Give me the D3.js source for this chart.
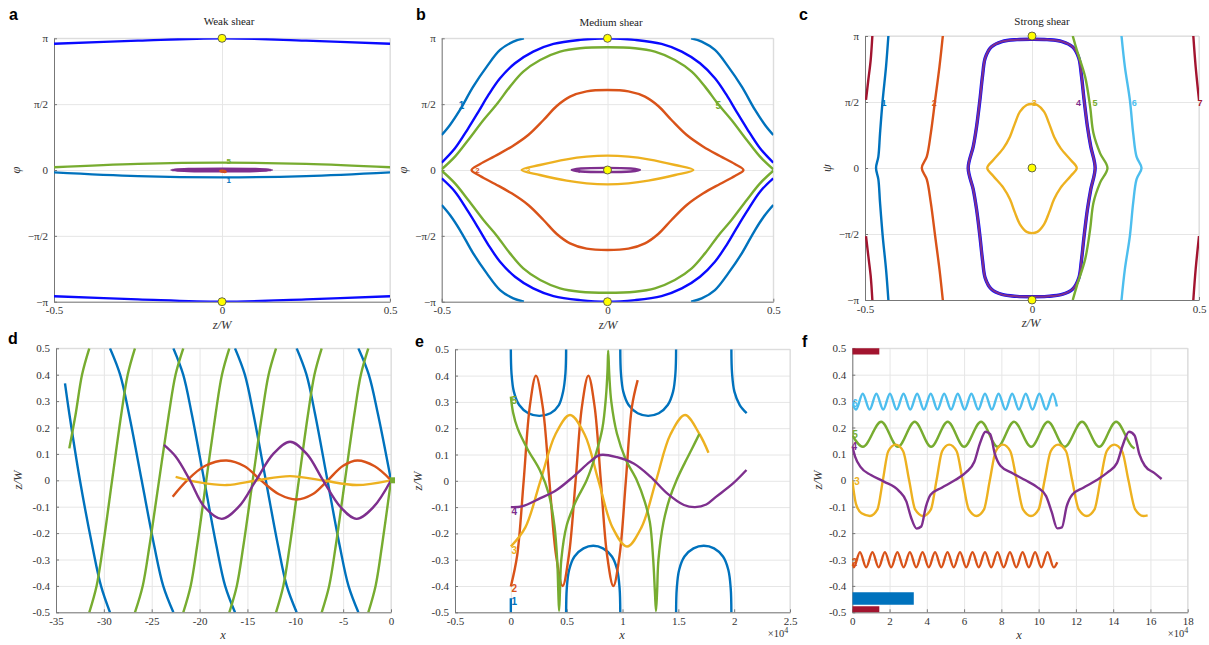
<!DOCTYPE html>
<html>
<head>
<meta charset="utf-8">
<script src="https://cdn.jsdelivr.net/npm/d3@7"></script>
<style>
  body { margin: 0; background: #fff; }
  text { font-family: "Liberation Serif", serif; }
</style>
</head>
<body>
<svg id="fig" width="1209" height="645"></svg>
<script>
const PI = Math.PI;
const col = {
  blue: "#0072BD", orange: "#D95319", yellow: "#EDB120", purple: "#7E2F8E",
  green: "#77AC30", cyan: "#4DBEEE", red: "#A2142F", sep: "#0a0aff"
};

// ---- tick values / labels ----
const phiTicks = [-PI, -PI / 2, 0, PI / 2, PI];
const phiLabels = ["\u2212\u03c0", "\u2212\u03c0/2", "0", "\u03c0/2", "\u03c0"];
const zTicks = [-0.5, 0, 0.5];
const zLabels = ["-0.5", "0", "0.5"];
const zwTicks = [-0.5, -0.4, -0.3, -0.2, -0.1, 0, 0.1, 0.2, 0.3, 0.4, 0.5];
const zwLabels = ["-0.5", "-0.4", "-0.3", "-0.2", "-0.1", "0", "0.1", "0.2", "0.3", "0.4", "0.5"];
const dTicks = [-35, -30, -25, -20, -15, -10, -5, 0];
const eTicks = [-0.5, 0, 0.5, 1, 1.5, 2, 2.5];
const fTicks = [0, 2, 4, 6, 8, 10, 12, 14, 16, 18];

// ---- panel a : weak shear ----
const aSepTop = [[-0.5,3.01],[-0.25,3.085],[0,3.142],[0.25,3.085],[0.5,3.01]];
const aSepBot = [[-0.5,-3.01],[-0.25,-3.085],[0,-3.142],[0.25,-3.085],[0.5,-3.01]];
const aGreen = [[-0.5,0.064],[-0.25,0.145],[0,0.175],[0.25,0.145],[0.5,0.064]];
const aBlue = [[-0.5,-0.056],[-0.25,-0.145],[0,-0.175],[0.25,-0.145],[0.5,-0.056]];
const aPurple = [[-0.15,0],[-0.1,0.022],[0,0.03],[0.1,0.022],[0.148,0],[0.1,-0.022],[0,-0.03],[-0.1,-0.022]];
const aOrange = [[-0.006,-0.01],[0.01,-0.02],[0.012,-0.05],[-0.004,-0.04]];

// ---- panel b : medium shear ----
const bSepTop = [[-0.5,0.175],[-0.46,0.517],[-0.42,0.994],[-0.389,1.392],[-0.359,1.79],[-0.324,2.188],[-0.279,2.546],[-0.224,2.824],[-0.163,3.007],[-0.083,3.103],[0,3.142],[0.083,3.103],[0.163,3.007],[0.224,2.824],[0.279,2.546],[0.324,2.188],[0.359,1.79],[0.389,1.392],[0.42,0.994],[0.46,0.517],[0.5,0.175]];
const bSepBot = [[-0.5,-0.2],[-0.46,-0.517],[-0.42,-0.994],[-0.389,-1.392],[-0.359,-1.79],[-0.324,-2.188],[-0.279,-2.546],[-0.224,-2.824],[-0.163,-3.007],[-0.083,-3.103],[0,-3.142],[0.083,-3.103],[0.163,-3.007],[0.224,-2.824],[0.279,-2.546],[0.324,-2.188],[0.359,-1.79],[0.389,-1.392],[0.42,-0.994],[0.46,-0.517],[0.5,-0.2]];
const bGreenTop = [[-0.5,0.016],[-0.46,0.318],[-0.42,0.716],[-0.374,1.193],[-0.334,1.567],[-0.294,1.989],[-0.254,2.347],[-0.203,2.625],[-0.143,2.824],[-0.083,2.904],[0,2.928],[0.083,2.904],[0.143,2.824],[0.203,2.625],[0.254,2.347],[0.294,1.989],[0.334,1.567],[0.374,1.193],[0.42,0.716],[0.46,0.318],[0.5,0.016]];
const bGreenBot = [[-0.5,-0.016],[-0.46,-0.318],[-0.42,-0.716],[-0.374,-1.193],[-0.334,-1.567],[-0.294,-1.989],[-0.254,-2.347],[-0.203,-2.625],[-0.143,-2.824],[-0.083,-2.904],[0,-2.928],[0.083,-2.904],[0.143,-2.824],[0.203,-2.625],[0.254,-2.347],[0.294,-1.989],[0.334,-1.567],[0.374,-1.193],[0.42,-0.716],[0.46,-0.318],[0.5,-0.016]];
const bBlueTL = [[-0.5,0.835],[-0.475,1.074],[-0.445,1.432],[-0.405,1.989],[-0.364,2.466],[-0.324,2.864],[-0.284,3.063],[-0.252,3.142]];
const bBlueTR = [[0.5,0.835],[0.475,1.074],[0.445,1.432],[0.405,1.989],[0.364,2.466],[0.324,2.864],[0.284,3.063],[0.252,3.142]];
const bBlueBL = [[-0.5,-0.835],[-0.475,-1.074],[-0.445,-1.432],[-0.405,-1.989],[-0.364,-2.466],[-0.324,-2.864],[-0.284,-3.063],[-0.252,-3.142]];
const bBlueBR = [[0.5,-0.835],[0.475,-1.074],[0.445,-1.432],[0.405,-1.989],[0.364,-2.466],[0.324,-2.864],[0.284,-3.063],[0.252,-3.142]];
const bOrange = [[-0.41,0],[-0.384,0.143],[-0.339,0.334],[-0.289,0.557],[-0.239,0.835],[-0.193,1.193],[-0.153,1.527],[-0.113,1.75],[-0.063,1.877],[0,1.909],[0.063,1.877],[0.113,1.75],[0.153,1.527],[0.193,1.193],[0.239,0.835],[0.289,0.557],[0.339,0.334],[0.384,0.143],[0.41,0],[0.384,-0.143],[0.339,-0.334],[0.289,-0.557],[0.239,-0.835],[0.193,-1.193],[0.153,-1.527],[0.113,-1.75],[0.063,-1.877],[0,-1.909],[-0.063,-1.877],[-0.113,-1.75],[-0.153,-1.527],[-0.193,-1.193],[-0.239,-0.835],[-0.289,-0.557],[-0.339,-0.334],[-0.384,-0.143]];
const bYellow = [[-0.259,0],[-0.204,0.119],[-0.123,0.255],[-0.063,0.318],[0,0.342],[0.063,0.318],[0.123,0.255],[0.204,0.119],[0.259,0],[0.204,-0.119],[0.123,-0.255],[0.063,-0.318],[0,-0.342],[-0.063,-0.318],[-0.123,-0.255],[-0.204,-0.119]];
const bPurple = [[-0.108,0],[-0.08,0.035],[-0.005,0.05],[0.07,0.035],[0.098,0],[0.07,-0.035],[-0.005,-0.05],[-0.08,-0.035]];

// ---- panel c : strong shear ----
const cRedTL = [[-0.478,3.142],[-0.483,2.57],[-0.49,2.1],[-0.497,1.62]];
const cRedBL = [[-0.497,-1.62],[-0.49,-2.1],[-0.483,-2.57],[-0.478,-3.142]];
const cRedTR = [[0.483,3.142],[0.49,2.41],[0.5,1.62]];
const cRedBR = [[0.5,-1.62],[0.49,-2.41],[0.483,-3.142]];
const cBlue = [[-0.43,3.142],[-0.437,2.413],[-0.447,1.619],[-0.455,0.825],[-0.46,0.27],[-0.467,0],[-0.46,-0.27],[-0.455,-0.825],[-0.447,-1.619],[-0.437,-2.413],[-0.43,-3.142]];
const cOrange = [[-0.267,3.142],[-0.277,2.413],[-0.29,1.619],[-0.303,0.825],[-0.315,0.27],[-0.33,0],[-0.315,-0.27],[-0.303,-0.825],[-0.29,-1.619],[-0.277,-2.413],[-0.267,-3.142]];
const cYellow = [[-0.134,0],[-0.116,0.19],[-0.086,0.468],[-0.066,0.746],[-0.051,1.063],[-0.036,1.341],[-0.016,1.5],[0,1.524],[0.016,1.5],[0.036,1.341],[0.051,1.063],[0.066,0.746],[0.086,0.468],[0.116,0.19],[0.134,0],[0.116,-0.19],[0.086,-0.468],[0.066,-0.746],[0.051,-1.063],[0.036,-1.341],[0.016,-1.52],[0,-1.55],[-0.016,-1.52],[-0.036,-1.341],[-0.051,-1.063],[-0.066,-0.746],[-0.086,-0.468],[-0.116,-0.19]];
const cSep = [[-0.191,0],[-0.176,0.508],[-0.166,0.984],[-0.156,1.619],[-0.148,2.2],[-0.14,2.62],[-0.122,2.88],[-0.09,3.01],[-0.045,3.055],[0,3.063],[0.045,3.055],[0.09,3.01],[0.122,2.88],[0.14,2.62],[0.148,2.2],[0.156,1.619],[0.166,0.984],[0.176,0.508],[0.189,0],[0.176,-0.508],[0.166,-0.984],[0.156,-1.619],[0.148,-2.2],[0.14,-2.62],[0.122,-2.88],[0.09,-3.01],[0.045,-3.055],[0,-3.063],[-0.045,-3.055],[-0.09,-3.01],[-0.122,-2.88],[-0.14,-2.62],[-0.148,-2.2],[-0.156,-1.619],[-0.166,-0.984],[-0.176,-0.508]];
const cGreen = [[0.122,3.142],[0.134,2.81],[0.159,2.175],[0.174,1.46],[0.184,0.825],[0.204,0.349],[0.226,0],[0.204,-0.349],[0.184,-0.825],[0.174,-1.46],[0.159,-2.175],[0.134,-2.81],[0.122,-3.142]];
const cCyan = [[0.268,3.142],[0.278,2.413],[0.293,1.619],[0.303,0.825],[0.313,0.27],[0.328,0],[0.313,-0.27],[0.303,-0.825],[0.293,-1.619],[0.278,-2.413],[0.268,-3.142]];

// ---- panel d : weak shear trajectories ----
const dBlue0 = [[-34.06,0.367],[-33.6,0.25],[-32.5,0],[-31.2,-0.25],[-30.3,-0.4],[-29.36,-0.5]];
const dBlue1 = [[-29.36,0.5],[-28.3,0.4],[-27.37,0.25],[-26.05,0],[-24.73,-0.25],[-23.8,-0.4],[-22.74,-0.5]];
const dBlue2 = [[-22.74,0.5],[-21.71,0.4],[-20.81,0.25],[-19.52,0],[-18.23,-0.25],[-17.33,-0.4],[-16.3,-0.5]];
const dBlue3 = [[-16.3,0.5],[-15.27,0.4],[-14.37,0.25],[-13.08,0],[-11.79,-0.25],[-10.89,-0.4],[-9.86,-0.5]];
const dBlue4 = [[-9.86,0.5],[-8.83,0.4],[-7.93,0.25],[-6.64,0],[-5.35,-0.25],[-4.44,-0.4],[-3.41,-0.5]];
const dBlue5 = [[-3.41,0.5],[-2.32,0.4],[-1.36,0.25],[0,0]];
const dGreen0 = [[-33.61,0.121],[-32.95,0.25],[-32.28,0.4],[-31.52,0.5]];
const dGreen1 = [[-31.52,-0.5],[-30.76,-0.4],[-30.09,-0.25],[-29.14,0],[-28.18,0.25],[-27.51,0.4],[-26.75,0.5]];
const dGreen2 = [[-26.75,-0.5],[-25.94,-0.4],[-25.24,-0.25],[-24.23,0],[-23.21,0.25],[-22.51,0.4],[-21.7,0.5]];
const dGreen3 = [[-21.7,-0.5],[-20.93,-0.4],[-20.26,-0.25],[-19.3,0],[-18.33,0.25],[-17.66,0.4],[-16.89,0.5]];
const dGreen4 = [[-16.89,-0.5],[-16.11,-0.4],[-15.43,-0.25],[-14.45,0],[-13.47,0.25],[-12.79,0.4],[-12.01,0.5]];
const dGreen5 = [[-12.01,-0.5],[-11.25,-0.4],[-10.58,-0.25],[-9.63,0],[-8.67,0.25],[-8.0,0.4],[-7.24,0.5]];
const dGreen6 = [[-7.24,-0.5],[-6.46,-0.4],[-5.78,-0.25],[-4.81,0],[-3.83,0.25],[-3.15,0.4],[-2.37,0.5]];
const dGreen7 = [[-2.37,-0.5],[-1.61,-0.4],[-0.95,-0.25],[0,0]];
const dOrange = [[-22.81,-0.062],[-21.3,0],[-19.4,0.055],[-17.17,0.075],[-15.3,0.053],[-13.6,0],[-11.7,-0.053],[-9.86,-0.073],[-8.2,-0.053],[-6.6,0],[-5,0.055],[-3.5,0.075],[-1.7,0.053],[0,0]];
const dPurple = [[-23.72,0.134],[-22.5,0.09],[-21.0,0],[-19.5,-0.1],[-17.69,-0.146],[-15.9,-0.1],[-14.1,0],[-12.3,0.1],[-10.55,0.146],[-8.8,0.1],[-7.1,0],[-5.3,-0.1],[-3.59,-0.146],[-1.8,-0.1],[0,0]];
const dYellow = [[-22.5,0.013],[-20.0,-0.008],[-17.17,-0.018],[-14.0,0],[-10.55,0.016],[-7.2,0],[-3.59,-0.018],[0,0]];

// ---- panel e : medium shear trajectories (x in 1e4) ----
const eBlue0 = [[0,-0.447],[0,-0.5]];
const eBlueU1 = [[0,0.5],[0.006,0.409],[0.027,0.339],[0.075,0.288],[0.156,0.257],[0.255,0.247],[0.355,0.257],[0.43,0.288],[0.468,0.339],[0.489,0.409],[0.495,0.5]];
const eBlueD1 = [[0.495,-0.5],[0.501,-0.409],[0.522,-0.339],[0.57,-0.288],[0.651,-0.257],[0.738,-0.247],[0.825,-0.257],[0.905,-0.288],[0.953,-0.339],[0.974,-0.409],[0.98,-0.5]];
const eBlueU2 = [[0.98,0.5],[0.986,0.409],[1.007,0.339],[1.055,0.288],[1.136,0.257],[1.23,0.247],[1.325,0.257],[1.405,0.288],[1.453,0.339],[1.474,0.409],[1.48,0.5]];
const eBlueD2 = [[1.48,-0.5],[1.486,-0.409],[1.507,-0.339],[1.555,-0.288],[1.636,-0.257],[1.728,-0.247],[1.82,-0.257],[1.9,-0.288],[1.948,-0.339],[1.969,-0.409],[1.975,-0.5]];
const eBlueU3 = [[1.975,0.5],[1.981,0.409],[2.002,0.339],[2.05,0.288],[2.112,0.257]];
const eOrange = [[0,-0.402],[0.057,-0.283],[0.115,0],[0.17,0.283],[0.225,0.4],[0.285,0.283],[0.345,0],[0.405,-0.283],[0.464,-0.4],[0.52,-0.283],[0.58,0],[0.637,0.283],[0.694,0.4],[0.75,0.283],[0.806,0],[0.862,-0.283],[0.918,-0.4],[0.974,-0.283],[1.03,0],[1.085,0.283],[1.136,0.383]];
const eYellow = [[0,-0.25],[0.13,-0.177],[0.265,0],[0.4,0.177],[0.53,0.25],[0.66,0.177],[0.785,0],[0.91,-0.177],[1.04,-0.25],[1.17,-0.177],[1.3,0],[1.43,0.177],[1.56,0.25],[1.69,0.177],[1.77,0.107]];
const ePurple = [[0,-0.1],[0.1,-0.097],[0.26,-0.067],[0.41,-0.035],[0.56,0.016],[0.71,0.073],[0.8,0.098],[0.95,0.09],[1.1,0.066],[1.25,0.016],[1.4,-0.048],[1.55,-0.092],[1.65,-0.1],[1.75,-0.09],[1.84,-0.06],[1.99,-0.01],[2.11,0.041]];
const eGreen = [[0,0.32],[0.02,0.26],[0.06,0.2],[0.15,0.12],[0.26,0.04],[0.34,-0.05],[0.39,-0.17],[0.415,-0.3],[0.425,-0.42],[0.432,-0.495],[0.44,-0.42],[0.452,-0.3],[0.5,-0.17],[0.58,-0.08],[0.68,0.003],[0.76,0.1],[0.82,0.2],[0.852,0.32],[0.866,0.42],[0.872,0.495],[0.882,0.4],[0.9,0.3],[0.95,0.18],[1.03,0.08],[1.127,0.003],[1.2,-0.08],[1.246,-0.16],[1.275,-0.3],[1.29,-0.42],[1.3,-0.495],[1.31,-0.42],[1.322,-0.3],[1.366,-0.16],[1.42,-0.07],[1.485,0.003],[1.56,0.07],[1.62,0.12],[1.688,0.178]];

// ---- panel f : strong shear trajectories (x in 1e4) ----
const fRedTop = [[0,0.489],[1.45,0.489]];
const fRedBot = [[0,-0.489],[1.45,-0.489]];
const fBlue = [[0,-0.448],[3.3,-0.448]];
const fCyan = [[0,0.29],[0.2,0.268],[0.56,0.328],[0.93,0.268],[1.29,0.328],[1.66,0.268],[2.02,0.328],[2.38,0.268],[2.75,0.328],[3.11,0.268],[3.48,0.328],[3.84,0.268],[4.21,0.328],[4.57,0.268],[4.93,0.328],[5.3,0.268],[5.66,0.328],[6.03,0.268],[6.39,0.328],[6.76,0.268],[7.12,0.328],[7.49,0.268],[7.85,0.328],[8.22,0.268],[8.58,0.328],[8.94,0.268],[9.31,0.328],[9.67,0.268],[10.04,0.328],[10.4,0.268],[10.76,0.328],[10.98,0.28]];
const fOrange = [[0,-0.31],[0.08,-0.33],[0.41,-0.272],[0.745,-0.33],[1.08,-0.272],[1.415,-0.33],[1.75,-0.272],[2.085,-0.33],[2.42,-0.272],[2.755,-0.33],[3.09,-0.272],[3.43,-0.33],[3.77,-0.272],[4.105,-0.33],[4.44,-0.272],[4.775,-0.33],[5.11,-0.272],[5.445,-0.33],[5.78,-0.272],[6.115,-0.33],[6.45,-0.272],[6.785,-0.33],[7.12,-0.272],[7.455,-0.33],[7.79,-0.272],[8.125,-0.33],[8.46,-0.272],[8.8,-0.33],[9.14,-0.272],[9.475,-0.33],[9.81,-0.272],[10.145,-0.33],[10.48,-0.272],[10.81,-0.33],[11.0,-0.31]];
const fGreen = [[0,0.17],[0.57,0.127],[1.55,0.222],[2.45,0.127],[3.35,0.222],[4.23,0.127],[5.12,0.222],[6.0,0.127],[6.91,0.222],[7.8,0.127],[8.68,0.222],[9.6,0.127],[10.5,0.222],[11.4,0.127],[12.33,0.222],[13.25,0.127],[14.16,0.222],[15.05,0.125],[15.15,0.121]];
const fYellow = [[0,0],[0.2,-0.09],[0.5,-0.125],[0.95,-0.135],[1.35,-0.11],[1.64,0],[1.93,0.11],[2.33,0.135],[2.73,0.11],[3.05,0],[3.37,-0.11],[3.81,-0.135],[4.22,-0.11],[4.52,0],[4.82,0.11],[5.2,0.135],[5.6,0.11],[5.92,0],[6.25,-0.11],[6.67,-0.135],[7.07,-0.11],[7.38,0],[7.7,0.11],[8.08,0.135],[8.48,0.11],[8.82,0],[9.16,-0.11],[9.59,-0.135],[10.0,-0.11],[10.32,0],[10.65,0.11],[11.05,0.135],[11.47,0.11],[11.8,0],[12.15,-0.11],[12.58,-0.135],[13.0,-0.11],[13.32,0],[13.65,0.11],[14.06,0.135],[14.48,0.11],[14.82,0],[15.18,-0.11],[15.62,-0.135],[15.85,-0.133]];
const fPurple = [[0,0.128],[0.15,0.09],[0.45,0.05],[1.0,0.02],[1.7,-0.005],[2.5,-0.04],[2.9,-0.08],[3.15,-0.14],[3.45,-0.183],[3.7,-0.175],[3.95,-0.1],[4.2,-0.055],[4.8,-0.028],[5.5,0],[6.1,0.03],[6.55,0.07],[6.85,0.14],[7.15,0.184],[7.4,0.175],[7.65,0.1],[7.95,0.055],[8.6,0.027],[9.3,0],[9.9,-0.025],[10.4,-0.06],[10.7,-0.12],[11.0,-0.182],[11.25,-0.178],[11.5,-0.1],[11.8,-0.055],[12.4,-0.028],[13.1,0],[13.7,0.03],[14.2,0.065],[14.5,0.13],[14.85,0.184],[15.15,0.17],[15.4,0.1],[15.7,0.055],[16.2,0.028],[16.6,0.005]];

// ---- curve number labels [x, y, text, colour key] ----
const aNums = [[0.02,0.22,"5","green"],[0.02,-0.24,"1","blue"]];
const bNums = [[-0.44,1.53,"1","blue"],[0.334,1.53,"5","green"],[-0.392,0,"2","orange"],[-0.239,0,"3","yellow"],[-0.088,0,"4","purple"]];
const cNums = [[-0.443,1.54,"1","blue"],[-0.293,1.54,"2","orange"],[0.007,1.54,"3","yellow"],[0.139,1.54,"4","purple"],[0.189,1.54,"5","green"],[0.306,1.54,"6","cyan"],[0.503,1.54,"7","red"]];
const eNums = [[0.03,-0.46,"1","blue"],[0.03,-0.41,"2","orange"],[0.03,-0.265,"3","yellow"],[0.03,-0.118,"4","purple"],[0.03,0.307,"5","green"]];
const fNums = [[0.15,0.29,"6","cyan"],[0.15,0.175,"5","green"],[0.1,0.128,"4","purple"],[0.25,-0.005,"3","yellow"],[0.12,-0.31,"2","orange"]];

const svg = d3.select("#fig");
const serif = "'Liberation Serif', 'DejaVu Serif', serif";
const sans = "'Liberation Sans', Arial, sans-serif";

function makePanel(p) {
  const x = d3.scaleLinear().domain(p.xDomain).range([p.left, p.right]);
  const y = d3.scaleLinear().domain(p.yDomain).range([p.bottom, p.top]);
  const w = p.right - p.left, h = p.bottom - p.top;
  const g = svg.append("g");

  // grid
  g.append("g").attr("transform", `translate(0,${p.bottom})`)
    .call(d3.axisBottom(x).tickValues(p.xTicks).tickSize(-h).tickFormat(""))
    .call(s => { s.select(".domain").remove(); s.selectAll("line").attr("stroke", "#e6e6e6"); });
  g.append("g").attr("transform", `translate(${p.left},0)`)
    .call(d3.axisLeft(y).tickValues(p.yTicks).tickSize(-w).tickFormat(""))
    .call(s => { s.select(".domain").remove(); s.selectAll("line").attr("stroke", "#e6e6e6"); });

  // top / right box edge
  g.append("path").attr("d", `M${p.left},${p.top}H${p.right}V${p.bottom}`)
    .attr("fill", "none").attr("stroke", "#d9d9d9");

  // axes
  const xa = g.append("g").attr("transform", `translate(0,${p.bottom})`)
    .call(d3.axisBottom(x).tickValues(p.xTicks).tickSizeInner(-3).tickSizeOuter(0).tickPadding(5)
      .tickFormat((d, i) => p.xLabels[i]));
  const ya = g.append("g").attr("transform", `translate(${p.left},0)`)
    .call(d3.axisLeft(y).tickValues(p.yTicks).tickSizeInner(-3).tickSizeOuter(0).tickPadding(6)
      .tickFormat((d, i) => p.yLabels[i]));
  [xa, ya].forEach(a => {
    a.attr("font-family", null);
    a.select(".domain").attr("stroke", "#777");
    a.selectAll(".tick line").attr("stroke", "#777");
    a.selectAll("text").style("font-family", serif).attr("font-size", 11).attr("fill", "#333");
  });

  const id = "clip-" + p.name;
  svg.append("clipPath").attr("id", id).append("rect")
    .attr("x", p.left).attr("y", p.top).attr("width", w).attr("height", h);
  const plot = g.append("g").attr("clip-path", `url(#${id})`);

  // axis titles
  g.append("text").attr("x", p.xlab[0]).attr("y", p.xlab[1]).attr("text-anchor", "middle")
    .style("font-family", serif).attr("font-size", 12.5).attr("font-style", "italic").attr("fill", "#333").text(p.xTitle);
  g.append("text").attr("transform", `translate(${p.ylab[0]},${p.ylab[1]}) rotate(-90)`)
    .attr("text-anchor", "middle").style("font-family", serif).attr("font-size", 12.5).attr("font-style", "italic")
    .attr("fill", "#333").text(p.yTitle);
  if (p.title) {
    g.append("text").attr("x", p.titlePos[0]).attr("y", p.titlePos[1]).attr("text-anchor", "middle")
      .style("font-family", serif).attr("font-size", 11).attr("fill", "#222").text(p.title);
  }
  svg.append("text").attr("x", p.letter[0]).attr("y", p.letter[1])
    .style("font-family", sans).attr("font-weight", "bold")
    .attr("font-size", 16).attr("fill", "#000").text(p.name);
  if (p.exp) {
    const t = g.append("text").attr("x", p.exp[0]).attr("y", p.exp[1]).attr("text-anchor", "middle")
      .style("font-family", serif).attr("font-size", 10.5).attr("fill", "#333");
    t.append("tspan").text("\u00d710");
    t.append("tspan").attr("dy", -4).attr("font-size", 8).text("4");
  }
  return { x, y, g, plot };
}

function draw(P, data, color, width, opts = {}) {
  const gen = d3.line().x(d => P.x(d[0])).y(d => P.y(d[1]))
    .curve(opts.closed ? d3.curveCatmullRomClosed : (opts.curve || d3.curveCatmullRom));
  P.plot.append("path").datum(data).attr("d", gen)
    .attr("fill", "none").attr("stroke", color).attr("stroke-width", width)
    .attr("stroke-linejoin", "round");
}

function dots(P, pts) {
  P.g.selectAll(null).data(pts).join("circle")
    .attr("cx", d => P.x(d[0])).attr("cy", d => P.y(d[1])).attr("r", 4)
    .attr("fill", "#ffff00").attr("stroke", "#444").attr("stroke-width", 0.8);
}

function nums(P, list, size) {
  P.g.selectAll(null).data(list).join("text")
    .attr("x", d => P.x(d[0])).attr("y", d => P.y(d[1])).attr("dy", "0.35em")
    .attr("text-anchor", "middle").style("font-family", sans)
    .attr("font-weight", "bold").attr("font-size", size).attr("fill", d => col[d[3]]).text(d => d[2]);
}

// ===== panel a =====
const A = makePanel({ name: "a", left: 54, right: 390, top: 38.3, bottom: 301.7,
  xDomain: [-0.5, 0.5], yDomain: [-PI, PI], xTicks: zTicks, xLabels: zLabels, yTicks: phiTicks, yLabels: phiLabels,
  xTitle: "z/W", yTitle: "\u03c6", xlab: [222, 329], ylab: [20, 170], title: "Weak shear", titlePos: [229, 25], letter: [9, 20] });
draw(A, aSepTop, col.sep, 2.4);
draw(A, aSepBot, col.sep, 2.4);
draw(A, aGreen, col.green, 2.4);
draw(A, aBlue, col.blue, 2.4);
draw(A, aPurple, col.purple, 2.6, { closed: true });
draw(A, aOrange, col.orange, 1.6, { closed: true });
nums(A, aNums, 8);
dots(A, [[0, PI], [0, -PI]]);

// ===== panel b =====
const B = makePanel({ name: "b", left: 441.7, right: 773.3, top: 38.3, bottom: 301.7,
  xDomain: [-0.5, 0.5], yDomain: [-PI, PI], xTicks: zTicks, xLabels: zLabels, yTicks: phiTicks, yLabels: phiLabels,
  xTitle: "z/W", yTitle: "\u03c6", xlab: [608, 329], ylab: [407, 170], title: "Medium shear", titlePos: [611, 26], letter: [416, 20] });
[bBlueTL, bBlueTR, bBlueBL, bBlueBR].forEach(d => draw(B, d, col.blue, 2.4));
draw(B, bSepTop, col.sep, 2.4);
draw(B, bSepBot, col.sep, 2.4);
draw(B, bGreenTop, col.green, 2.4);
draw(B, bGreenBot, col.green, 2.4);
draw(B, bOrange, col.orange, 2.4, { closed: true });
draw(B, bYellow, col.yellow, 2.4, { closed: true });
draw(B, bPurple, col.purple, 2.4, { closed: true });
nums(B, bNums.slice(0, 2), 10);
nums(B, bNums.slice(2), 8);
dots(B, [[0, PI], [0, 0], [0, -PI]]);

// ===== panel c =====
const Cp = makePanel({ name: "c", left: 865, right: 1199, top: 36, bottom: 300,
  xDomain: [-0.5, 0.5], yDomain: [-PI, PI], xTicks: zTicks, xLabels: zLabels, yTicks: phiTicks, yLabels: phiLabels,
  xTitle: "z/W", yTitle: "\u03c8", xlab: [1031, 327], ylab: [831, 168], title: "Strong shear", titlePos: [1042, 25], letter: [799, 20] });
[cRedTL, cRedBL, cRedTR, cRedBR].forEach(d => draw(Cp, d, col.red, 2.4));
draw(Cp, cBlue, col.blue, 2.4);
draw(Cp, cOrange, col.orange, 2.4);
draw(Cp, cSep, col.sep, 3.4, { closed: true });
draw(Cp, cSep, col.purple, 2.2, { closed: true });
draw(Cp, cYellow, col.yellow, 2.4, { closed: true });
draw(Cp, cGreen, col.green, 2.4);
draw(Cp, cCyan, col.cyan, 2.4);
nums(Cp, cNums, 9);
dots(Cp, [[0, PI], [0, 0], [0, -PI]]);

// ===== panel d =====
const D = makePanel({ name: "d", left: 56, right: 391, top: 348.3, bottom: 612.3,
  xDomain: [-35, 0], yDomain: [-0.5, 0.5], xTicks: dTicks, xLabels: dTicks.map(String), yTicks: zwTicks, yLabels: zwLabels,
  xTitle: "x", yTitle: "z/W", xlab: [223, 639], ylab: [22, 480], letter: [8, 344] });
[dBlue0, dBlue1, dBlue2, dBlue3, dBlue4, dBlue5].forEach(d => draw(D, d, col.blue, 2.4));
[dGreen0, dGreen1, dGreen2, dGreen3, dGreen4, dGreen5, dGreen6, dGreen7].forEach(d => draw(D, d, col.green, 2.4));
draw(D, dOrange, col.orange, 2.4);
draw(D, dYellow, col.yellow, 2.4);
draw(D, dPurple, col.purple, 2.4);
D.g.append("rect").attr("x", D.x(0) - 1).attr("y", D.y(0) - 3).attr("width", 5).attr("height", 6)
  .attr("fill", col.green);

// ===== panel e =====
const E = makePanel({ name: "e", left: 455, right: 790, top: 349.3, bottom: 612.3,
  xDomain: [-0.5, 2.5], yDomain: [-0.5, 0.5], xTicks: eTicks, xLabels: eTicks.map(String), yTicks: zwTicks, yLabels: zwLabels,
  xTitle: "x", yTitle: "z/W", xlab: [622, 639], ylab: [422, 481], letter: [415, 347], exp: [778, 637] });
[eBlue0, eBlueU1, eBlueD1, eBlueU2, eBlueD2, eBlueU3].forEach(d => draw(E, d, col.blue, 2.4));
draw(E, eOrange, col.orange, 2.4);
draw(E, eYellow, col.yellow, 2.4);
draw(E, eGreen, col.green, 2.4);
draw(E, ePurple, col.purple, 2.4);
nums(E, eNums, 10);

// ===== panel f =====
const F = makePanel({ name: "f", left: 852.3, right: 1187.7, top: 348.3, bottom: 612.3,
  xDomain: [0, 18], yDomain: [-0.5, 0.5], xTicks: fTicks, xLabels: fTicks.map(String), yTicks: zwTicks, yLabels: zwLabels,
  xTitle: "x", yTitle: "z/W", xlab: [1019, 639], ylab: [822, 480], letter: [802, 347], exp: [1178, 637] });
draw(F, fRedTop, col.red, 6.5, { curve: d3.curveLinear });
draw(F, fRedBot, col.red, 6.5, { curve: d3.curveLinear });
draw(F, fBlue, col.blue, 12.5, { curve: d3.curveLinear });
draw(F, fCyan, col.cyan, 2.4, { curve: d3.curveMonotoneX });
draw(F, fOrange, col.orange, 2.4, { curve: d3.curveMonotoneX });
draw(F, fGreen, col.green, 2.4, { curve: d3.curveMonotoneX });
draw(F, fYellow, col.yellow, 2.4, { curve: d3.curveMonotoneX });
draw(F, fPurple, col.purple, 2.4, { curve: d3.curveMonotoneX });
nums(F, fNums, 10);
</script>
</body>
</html>
